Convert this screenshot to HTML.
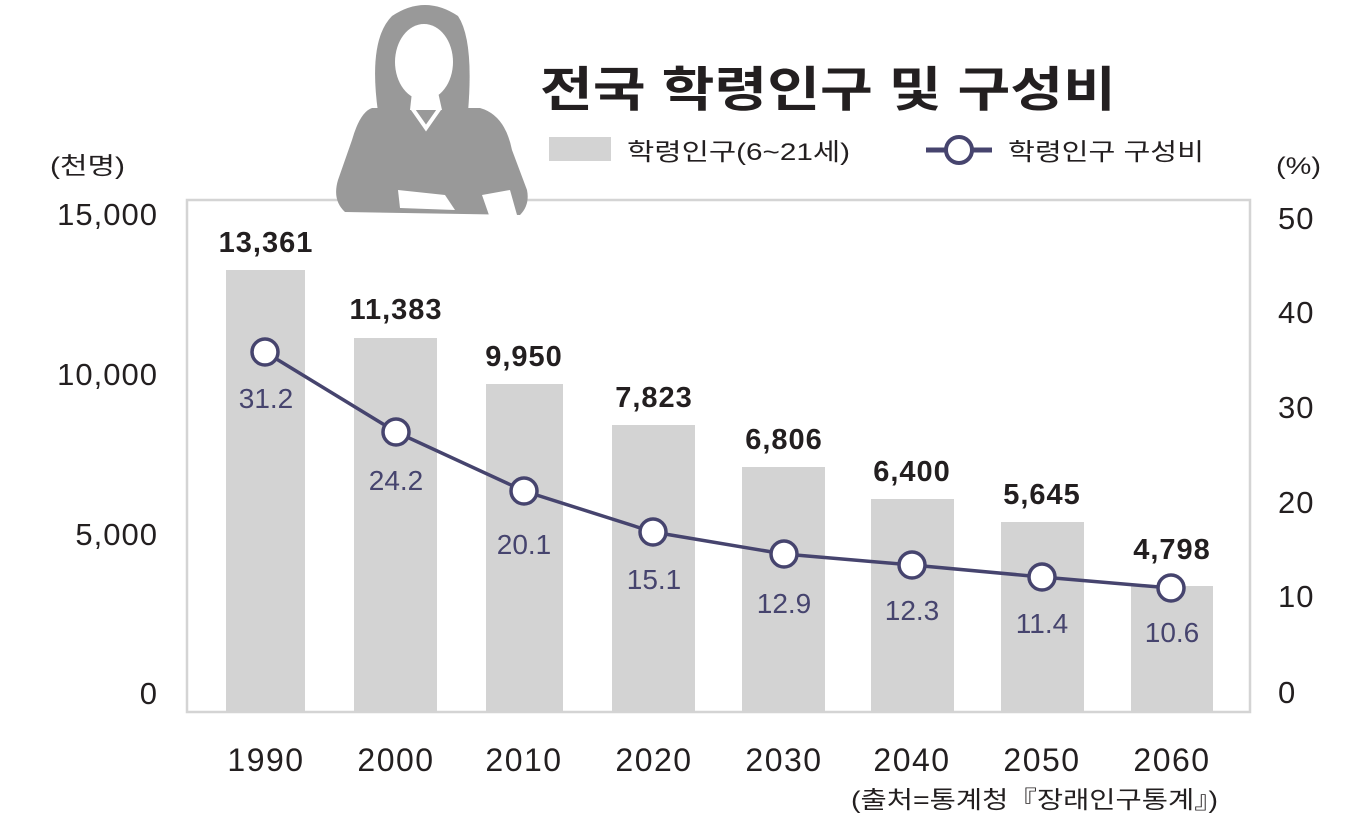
<!DOCTYPE html><html><head><meta charset="utf-8"><style>
body{margin:0;background:#fff;}
svg text{font-family:"Liberation Sans","Noto Sans CJK KR",sans-serif;}
</style></head><body>
<svg width="1371" height="827" viewBox="0 0 1371 827" xmlns="http://www.w3.org/2000/svg">
<rect x="187" y="200" width="1063" height="512" fill="none" stroke="#d4d4d4" stroke-width="2.5"/>
<g fill="#d3d3d3">
<rect x="226" y="270" width="79" height="442"/>
<rect x="354" y="338" width="83" height="374"/>
<rect x="486" y="384" width="77" height="328"/>
<rect x="612" y="425" width="83" height="287"/>
<rect x="742" y="467" width="83" height="245"/>
<rect x="871" y="499" width="83" height="213"/>
<rect x="1001" y="522" width="83" height="190"/>
<rect x="1131" y="586" width="82" height="126"/>
</g>
<!-- person -->
<g fill="#999">
<path d="M378 112 Q368 40 392 16 Q425 -6 458 16 Q474 40 468 112 Z"/>
<path d="M372 108 L480 108 Q505 115 512 150 L527 190 Q530 205 520 215 L345 212 Q332 200 338 180 L352 140 Q360 112 372 108Z"/>
</g>
<ellipse cx="424" cy="62" rx="29" ry="38" fill="#fff"/>
<path d="M412 92 L438 92 L442 110 L410 110Z" fill="#fff"/>
<path d="M412 108 L426 128 L440 108" fill="none" stroke="#fff" stroke-width="4"/>
<path d="M398 190 L445 195 L455 210 L400 208Z" fill="#fff"/>
<path d="M482 195 L510 190 L517 215 L490 218Z" fill="#fff"/>
<!-- title -->
<text x="540" y="106" font-size="48" font-weight="bold" fill="#231f20" textLength="576" lengthAdjust="spacingAndGlyphs">전국 학령인구 및 구성비</text>
<rect x="549" y="137" width="62" height="24" fill="#d3d3d3"/>
<text x="627" y="160" font-size="24" fill="#231f20" textLength="223" lengthAdjust="spacingAndGlyphs">학령인구(6~21세)</text>
<line x1="926" y1="150" x2="992" y2="150" stroke="#46446e" stroke-width="5"/>
<circle cx="959" cy="150" r="13" fill="#fff" stroke="#46446e" stroke-width="4"/>
<text x="1008" y="160" font-size="24" fill="#231f20" textLength="196" lengthAdjust="spacingAndGlyphs">학령인구 구성비</text>
<text x="50" y="174" font-size="24" fill="#231f20" textLength="75" lengthAdjust="spacingAndGlyphs">(천명)</text>
<text x="1276" y="174" font-size="24" fill="#231f20" textLength="45" lengthAdjust="spacingAndGlyphs">(%)</text>
<g font-size="31" fill="#231f20" text-anchor="end" letter-spacing="1">
<text x="158" y="225">15,000</text><text x="158" y="385">10,000</text><text x="158" y="545">5,000</text><text x="158" y="704">0</text>
</g>
<g font-size="31" fill="#231f20" letter-spacing="1">
<text x="1278" y="229">50</text><text x="1278" y="323">40</text><text x="1278" y="418">30</text><text x="1278" y="513">20</text><text x="1278" y="607">10</text><text x="1278" y="703">0</text>
</g>
<g font-size="32" fill="#231f20" text-anchor="middle" letter-spacing="1.5">
<text x="266" y="771">1990</text><text x="396" y="771">2000</text><text x="524" y="771">2010</text><text x="654" y="771">2020</text><text x="784" y="771">2030</text><text x="912" y="771">2040</text><text x="1042" y="771">2050</text><text x="1172" y="771">2060</text>
</g>
<g font-size="29" font-weight="bold" fill="#231f20" text-anchor="middle" letter-spacing="1">
<text x="266" y="252">13,361</text><text x="396" y="319">11,383</text><text x="524" y="366">9,950</text><text x="654" y="407">7,823</text><text x="784" y="449">6,806</text><text x="912" y="481">6,400</text><text x="1042" y="504">5,645</text><text x="1172" y="559">4,798</text>
</g>
<polyline points="265,352 396,432 524,491 653,532 784,554 912,565 1042,577 1171,588" fill="none" stroke="#46446e" stroke-width="3.5"/>
<g fill="#fff" stroke="#46446e" stroke-width="3.5">
<circle cx="265" cy="352" r="13"/><circle cx="396" cy="432" r="13"/><circle cx="524" cy="491" r="13"/><circle cx="653" cy="532" r="13"/><circle cx="784" cy="554" r="13"/><circle cx="912" cy="565" r="13"/><circle cx="1042" cy="577" r="13"/><circle cx="1171" cy="588" r="13"/>
</g>
<g font-size="28" fill="#46446e" text-anchor="middle">
<text x="266" y="408">31.2</text><text x="396" y="490">24.2</text><text x="524" y="554">20.1</text><text x="654" y="589">15.1</text><text x="784" y="613">12.9</text><text x="912" y="620">12.3</text><text x="1042" y="633">11.4</text><text x="1172" y="642">10.6</text>
</g>
<text x="851" y="808" font-size="24" fill="#231f20" textLength="367" lengthAdjust="spacingAndGlyphs">(출처=통계청『장래인구통계』)</text>
</svg>
</body></html>
